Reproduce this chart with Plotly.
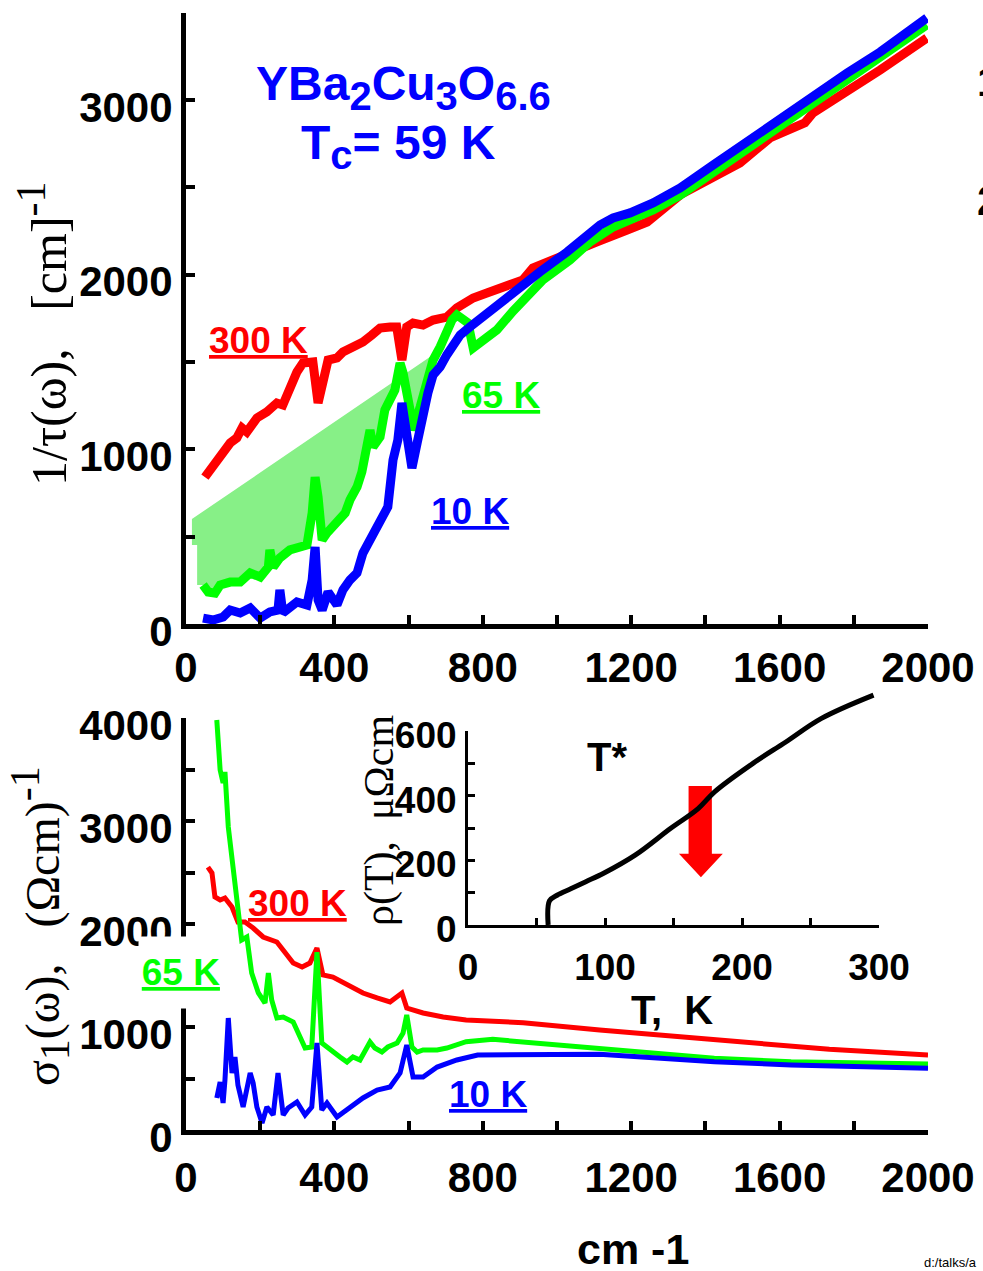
import plotly.graph_objects as go

# ---------------- data: scattering rate 1/tau(omega) (top panel) ----------------
tau_red_x = [51, 73, 92, 119, 137, 151, 164, 191, 218, 245, 261, 280, 299, 315, 342, 356, 369, 383, 407, 423,
             450, 477, 501, 523, 550, 568, 582, 595, 612, 639, 666, 703, 730, 774, 811, 855, 908, 935, 1016,
             1108, 1189, 1243, 1332, 1421, 1493, 1574, 1655, 1668, 1690, 1782, 1871, 1997]
tau_red_y = [841, 910, 967, 1036, 1065, 1122, 1099, 1179, 1214, 1265, 1254, 1357, 1443, 1494, 1500, 1265, 1397,
             1511, 1523, 1557, 1586, 1614, 1654, 1694, 1700, 1700, 1511, 1700, 1723, 1711, 1740, 1757, 1809,
             1866, 1895, 1929, 1969, 2038, 2112, 2187, 2255, 2301, 2456, 2553, 2639, 2782, 2868, 2868, 2925,
             3045, 3171, 3354]

tau_green_x = [46, 60, 78, 92, 119, 146, 173, 200, 222, 226, 235, 253, 280, 307, 326, 340, 348, 356, 367, 380,
               407, 429, 442, 461, 474, 488, 496, 504, 523, 536, 550, 563, 577, 585, 604, 612, 631, 650, 666,
               685, 703, 717, 730, 747, 760, 774, 792, 838, 881, 962, 1035, 1089, 1151, 1197, 1259, 1332, 1421,
               1512, 1601, 1690, 1782, 1871, 1997]
tau_green_y = [223, 183, 177, 223, 240, 240, 292, 269, 326, 424, 326, 378, 424, 441, 452, 635, 841, 727, 481, 521,
               578, 635, 710, 784, 870, 1036, 1110, 1013, 1070, 1225, 1299, 1339, 1494, 1437, 1225, 1110, 1242,
               1414, 1511, 1586, 1683, 1740, 1769, 1751, 1723, 1580, 1609, 1683, 1790, 1969, 2084, 2187, 2272,
               2310, 2370, 2455, 2585, 2715, 2850, 2985, 3110, 3235, 3429]

tau_blue_x = [46, 73, 100, 119, 146, 173, 200, 226, 248, 253, 261, 280, 299, 326, 340, 348, 356, 367, 383, 407,
              423, 442, 461, 477, 496, 515, 531, 544, 558, 571, 582, 595, 609, 623, 639, 652, 666, 685, 703, 720,
              739, 765, 792, 828, 892, 954, 1027, 1081, 1116, 1151, 1197, 1259, 1332, 1421, 1512, 1601, 1690,
              1782, 1871, 1997]
tau_blue_y = [34, 23, 40, 80, 63, 92, 34, 69, 80, 195, 63, 97, 126, 109, 252, 441, 137, 80, 183, 109,
              195, 252, 292, 406, 481, 555, 635, 670, 939, 1053, 1265, 1093, 893, 1036, 1208, 1322, 1425, 1471,
              1540, 1597, 1654, 1700, 1745, 1815, 1912, 2015, 2129, 2227, 2284, 2324, 2353, 2410, 2496, 2627,
              2759, 2896, 3028, 3154, 3274, 3469]

# shaded region: straight upper edge and left edge (values), lower edge = 65 K curve
shade_top_x = [16, 685]
shade_top_y = [601, 1568]
shade_left_x = [30, 30, 16]
shade_left_y = [223, 452, 452]

# ---------------- data: conductivity sigma_1(omega) (bottom panel) ----------------
sig_red_x = [59, 70, 78, 92, 105, 124, 140, 159, 181, 208, 245, 262, 289, 313, 334, 353, 369, 396, 434, 477,
             515, 550, 582, 595, 639, 693, 755, 909, 1115, 1322, 1528, 1734, 2000]
sig_red_y = [2553, 2495, 2262, 2233, 2252, 2165, 2019, 2019, 1961, 1874, 1825, 1748, 1621, 1583, 1621, 1767,
             1505, 1485, 1408, 1330, 1282, 1243, 1330, 1184, 1136, 1097, 1068, 1042, 971, 906, 841, 783, 728]

sig_green_x = [83, 92, 100, 105, 114, 127, 140, 150, 164, 177, 195, 213, 222, 231, 245, 262, 289, 307, 321, 339,
               353, 366, 388, 415, 434, 450, 469, 482, 496, 509, 528, 544, 569, 585, 595, 609, 623, 639, 677,
               703, 755, 827, 1012, 1218, 1424, 1631, 2000]
sig_green_y = [3981, 3495, 3369, 3476, 2942, 2553, 2233, 1845, 1874, 1524, 1330, 1233, 1524, 1262, 1087, 1097,
               1048, 903, 796, 806, 1728, 845, 777, 709, 660, 709, 680, 777, 854, 796, 757, 806, 845, 942, 1117,
               806, 757, 777, 777, 796, 857, 880, 825, 760, 696, 663, 641]

sig_blue_x = [83, 92, 100, 105, 114, 124, 132, 140, 154, 173, 181, 191, 205, 218, 235, 248, 262, 275, 299, 321,
              339, 353, 366, 380, 407, 442, 477, 515, 550, 577, 595, 612, 639, 677, 730, 786, 909, 1115, 1218,
              1424, 1631, 2000]
sig_blue_y = [311, 466, 262, 485, 1087, 553, 709, 437, 223, 553, 456, 223, 68, 223, 146, 553, 146, 214, 272, 146,
              223, 845, 194, 262, 126, 214, 311, 388, 417, 553, 825, 514, 514, 611, 680, 728, 735, 735, 712,
              663, 631, 599]

# ---------------- data: resistivity inset ----------------
rho_T = [58.5, 59.5, 65, 75, 86, 99, 122, 148, 168, 180, 208, 232, 258, 296]
rho_val = [0, 75, 92, 112, 134, 160, 216, 299, 360, 412, 500, 566, 639, 711]
arrow_T = [161, 178, 178, 186, 170, 154, 161, 161]
arrow_rho = [430, 430, 220, 220, 148, 220, 220, 430]

# tick values
x_ticks = list(range(0, 2001, 200))
tau_ticks = list(range(0, 3501, 500))
sig_ticks = list(range(0, 4001, 500))
T_ticks = list(range(0, 301, 50))
rho_ticks = list(range(0, 601, 100))

RED, GREEN, BLUE = "#FF0000", "#00FF00", "#0000FF"
W, H = 983, 1271


def fx(p):
    return p / W


def fy(p):
    return 1 - p / H


fig = go.Figure()

# shading (top)
g_low = [(x, y) for x, y in zip(tau_green_x, tau_green_y) if x <= shade_top_x[1]]
g_low.reverse()
fill_x = shade_top_x + [p[0] for p in g_low] + shade_left_x
fill_y = shade_top_y + [p[1] for p in g_low] + shade_left_y
fig.add_trace(go.Scatter(x=fill_x, y=fill_y, fill="toself", fillcolor="rgb(135,240,135)",
                         line=dict(width=0), mode="lines", xaxis="x", yaxis="y", hoverinfo="skip"))

for xs, ys, c in [(tau_red_x, tau_red_y, RED), (tau_green_x, tau_green_y, GREEN), (tau_blue_x, tau_blue_y, BLUE)]:
    fig.add_trace(go.Scatter(x=xs, y=ys, mode="lines", line=dict(color=c, width=9), xaxis="x", yaxis="y"))

for xs, ys, c in [(sig_red_x, sig_red_y, RED), (sig_green_x, sig_green_y, GREEN), (sig_blue_x, sig_blue_y, BLUE)]:
    fig.add_trace(go.Scatter(x=xs, y=ys, mode="lines", line=dict(color=c, width=5), xaxis="x2", yaxis="y2"))

fig.add_trace(go.Scatter(x=arrow_T, y=arrow_rho, fill="toself", fillcolor=RED, line=dict(width=0, color=RED),
                         mode="lines", xaxis="x3", yaxis="y3"))
fig.add_trace(go.Scatter(x=rho_T, y=rho_val, mode="lines", line=dict(color="black", width=5, shape="spline"),
                         xaxis="x4", yaxis="y4"))

tick_font = dict(family="Liberation Sans", size=42, color="black", weight="bold")
inset_font = dict(family="Liberation Sans", size=37, color="black", weight="bold")


def axis(vals, every, rng, dom, font, lw=5, tl=9, tw=4, standoff=8, shift=0, anchor=None):
    return dict(range=rng, domain=dom, tickvals=vals,
                ticktext=[str(v) if v % every == 0 else "" for v in vals],
                showline=True, linecolor="black", linewidth=lw, ticks="inside", ticklen=tl,
                tickwidth=tw, tickcolor="black", showgrid=False, zeroline=False, tickfont=font,
                ticklabelstandoff=standoff, ticklabelshift=shift, anchor=anchor, fixedrange=True,
                automargin=False)


xdom = [fx(186), fx(928)]
fig.update_layout(
    template="none",
    width=W, height=H, margin=dict(l=0, r=0, t=0, b=0, autoexpand=False), showlegend=False,
    paper_bgcolor="white", plot_bgcolor="rgba(0,0,0,0)",
    xaxis=axis(x_ticks, 400, [0, 2000], xdom, tick_font, standoff=3, anchor="y"),
    yaxis=axis(tau_ticks, 1000, [0, 3500], [fy(624), fy(12.5)], tick_font, standoff=0, shift=7, anchor="x"),
    xaxis2=axis(x_ticks, 400, [0, 2000], xdom, tick_font, standoff=7, anchor="y2"),
    yaxis2=axis(sig_ticks, 1000, [0, 4000], [fy(1130), fy(718)], tick_font, standoff=0, shift=7, anchor="x2"),
    xaxis3=axis(T_ticks, 100, [0, 300], [fx(468), fx(879)], inset_font, lw=3, tl=7, tw=3, standoff=8, anchor="y3"),
    yaxis3=axis(rho_ticks, 200, [0, 600], [fy(925), fy(731)], inset_font, lw=3, tl=7, tw=3, standoff=1, shift=4,
                anchor="x3"),
    xaxis4=dict(range=[0, 300], domain=[fx(468), fx(879)], visible=False, anchor="y4", fixedrange=True,
                automargin=False),
    yaxis4=dict(range=[0, 750], domain=[fy(925), fy(925 - 194 * 750 / 600)], visible=False, anchor="x4",
                fixedrange=True, automargin=False),
)

ann = []


def note(text, xp, yp, size, color="black", family="Liberation Sans", bold=True, angle=0, **kw):
    f = dict(family=family, size=size, color=color)
    if bold:
        f["weight"] = "bold"
    d = dict(text=text, x=fx(xp), y=fy(yp), xref="paper", yref="paper", showarrow=False, font=f,
             textangle=angle, xanchor=kw.pop("xanchor", "center"), yanchor=kw.pop("yanchor", "middle"))
    d.update(kw)
    ann.append(d)


sub = "<sub><span style='font-size:40px'>%s</span></sub>"
note("YBa" + sub % "2" + "Cu" + sub % "3" + "O" + sub % "6.6", 403, 88, 48, BLUE)
note("T" + sub % "c" + "= 59 K", 398, 146, 48, BLUE)

note("<u>300 K</u>", 258, 340, 37, RED)
note("<u>65 K</u>", 501, 396, 37, GREEN)
note("<u>10 K</u>", 470, 511, 37, BLUE)

note("<u>300 K</u>", 297, 903, 37, RED)
note("<u>65 K</u>", 181, 972, 37, GREEN, bgcolor="white", width=82, height=69)
note("<u>10 K</u>", 488, 1094, 37, BLUE)

SP = "&nbsp;"
note("1/τ(ω)," + SP * 3 + "[cm]<sup><span style='font-size:42px'>-1</span></sup>", 43, 334, 50,
     family="Liberation Serif", bold=False, angle=-90)
note("σ<sub><span style='font-size:42px'>1</span></sub>(ω)," + SP * 3 +
     "(Ωcm)<sup><span style='font-size:42px'>-1</span></sup>", 40, 926, 48,
     family="Liberation Serif", bold=False, angle=-90)
note("ρ(T)," + SP * 2 + "μΩcm", 379, 821, 42, family="Liberation Serif", bold=False, angle=-90)

note("T*", 607, 757, 40)
note("T,  K", 672, 1010, 40)
note("cm -1", 633, 1249, 43)
note("d:/talks/a", 922, 1262, 13, bold=False, xanchor="left")
note("1", 975, 82, 42, xanchor="left")
note("2", 975, 200, 42, xanchor="left")

fig.update_layout(annotations=ann)

fig.write_html("out.html", config={"displayModeBar": False}, post_script="document.body.style.margin='0px';")
